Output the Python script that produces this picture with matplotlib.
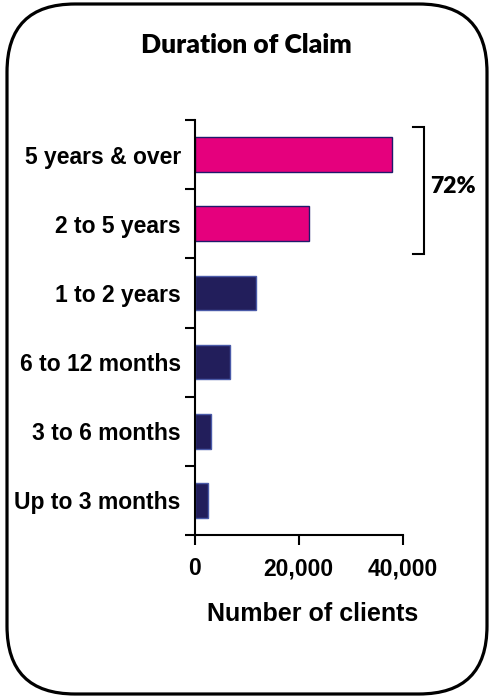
import numpy as np
import matplotlib
matplotlib.use("Agg")
import matplotlib.pyplot as plt
from matplotlib.patches import FancyBboxPatch
from matplotlib.ticker import FuncFormatter

# ---- data (top to bottom as shown)
categories = ["5 years & over", "2 to 5 years", "1 to 2 years",
              "6 to 12 months", "3 to 6 months", "Up to 3 months"]
clients = [38000, 22000, 11700, 6800, 3200, 2500]
long_term = [True, True, False, False, False, False]
bracket_label = "72%"

pink = "#E5007D"
navy = "#221E5B"

fig = plt.figure(figsize=(4.93, 6.97), dpi=100)

# rounded frame round the whole chart
frame = FancyBboxPatch((0.07, 0.03), 4.80, 6.90,
                       boxstyle="round,pad=0,rounding_size=0.68",
                       transform=fig.dpi_scale_trans, facecolor="none",
                       edgecolor="black", linewidth=2.3, zorder=0)
fig.patches.append(frame)

ax = fig.add_axes([0.395, 0.2324, 0.422, 0.5954])
ax.patch.set_alpha(0)

n = len(categories)
ypos = np.arange(n)[::-1]
colors = [pink if t else navy for t in long_term]
edges = ["#1F1A6B" if t else "#4A5AA8" for t in long_term]
ax.barh(ypos, clients, height=0.5, color=colors, edgecolor=edges, linewidth=1)

ax.set_xlim(0, 40000)
ax.set_ylim(-0.5, n - 0.5)
ax.set_xticks([0, 20000, 40000])
ax.xaxis.set_major_formatter(FuncFormatter(lambda v, p: f"{int(v):,}"))
ax.set_yticks(ypos)
ax.set_yticklabels(categories)
ax.set_yticks(np.arange(n + 1) - 0.5, minor=True)
ax.tick_params(axis="y", which="major", length=0, pad=10)
ax.tick_params(axis="y", which="minor", length=7, width=1.5, direction="out")
ax.tick_params(axis="x", length=7, width=1.5, direction="out", pad=9)
for lab in ax.get_yticklabels() + ax.get_xticklabels():
    lab.set_fontfamily("Liberation Sans")
    lab.set_fontweight("bold")
    lab.set_fontsize(16.5)

for s in ["top", "right"]:
    ax.spines[s].set_visible(False)
for s in ["left", "bottom"]:
    ax.spines[s].set_linewidth(1.5)

ax.set_xlabel("Number of clients", fontfamily="Liberation Sans",
              fontweight="bold", fontsize=18, labelpad=16)
ax.xaxis.label.set_x(0.565)

fig.text(0.5, 0.936, "Duration of Claim", ha="center", va="center",
         fontfamily="Lato", fontweight="heavy", fontsize=19)

# bracket over the two longest durations
bx, cap = 44100, 42000
y_top, y_bot = n - 1 + 0.4, n - 2 - 0.43
ax.plot([cap, bx, bx, cap], [y_top, y_top, y_bot, y_bot], color="black",
        linewidth=1.5, clip_on=False, solid_joinstyle="miter")
ax.text(49700, (y_top + y_bot) / 2 + 0.05, bracket_label, ha="center",
        va="center", fontfamily="Lato", fontweight="heavy", fontsize=16.5,
        clip_on=False)

fig.savefig("out.png", dpi=100)
